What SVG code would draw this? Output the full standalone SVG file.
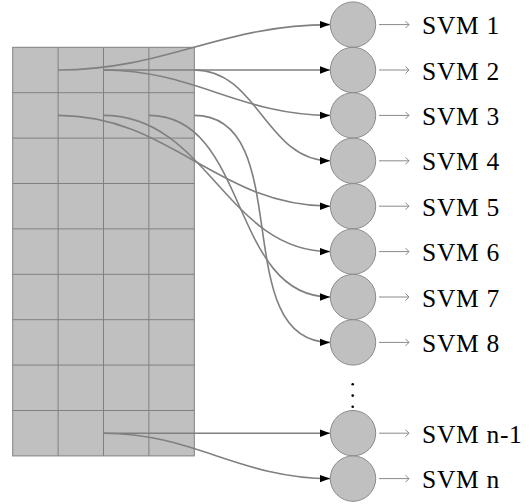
<svg xmlns="http://www.w3.org/2000/svg" width="530" height="504" viewBox="0 0 530 504">
<style>
.cell{fill:#c0c0c0;stroke:#808080;stroke-width:1}
.node circle{fill:#c0c0c0;stroke:#8a8a8a;stroke-width:1}
.out{fill:none;stroke:#8a8a8a;stroke-width:1}
.lbl{font-family:"Liberation Serif","Times New Roman",serif;font-size:25.5px;letter-spacing:0.7px;fill:#000}
.conn{fill:none;stroke:#808080;stroke-width:1.6;marker-end:url(#ah)}
</style>
<defs>
<marker id="ah" markerUnits="userSpaceOnUse" markerWidth="12" markerHeight="10" viewBox="0 0 12 10" refX="10" refY="5" orient="auto">
<path d="M0,1.3 L10,5 L0,8.7 Z" fill="#000"/>
</marker>
</defs>
<rect width="530" height="504" fill="#fff"/>
<g id="grid">
<rect class="cell" x="12.7" y="47.3" width="181.6" height="408.6"/>
<path d="M58.1,47.3V455.9M103.5,47.3V455.9M148.9,47.3V455.9M12.7,92.7H194.3M12.7,138.1H194.3M12.7,183.5H194.3M12.7,228.9H194.3M12.7,274.3H194.3M12.7,319.7H194.3M12.7,365.1H194.3M12.7,410.5H194.3" fill="none" stroke="#808080" stroke-width="1"/>
</g>
<g id="connectors">
<path class="conn" d="M58.1,70 C166,70 222.1,24.6 330,24.6"/>
<path class="conn" d="M103.5,70 L330,70"/>
<path class="conn" d="M103.5,70 C193.9,70 239.6,115.4 330,115.4"/>
<path class="conn" d="M194.3,70 C258.2,70 266.1,160.8 330,160.8"/>
<path class="conn" d="M58.1,115.4 C170.3,115.4 217.8,206.2 330,206.2"/>
<path class="conn" d="M103.5,115.4 C207,115.4 226.5,251.6 330,251.6"/>
<path class="conn" d="M148.9,115.4 C249.3,115.4 229.6,297 330,297"/>
<path class="conn" d="M194.3,115.4 C297.8,115.4 226.5,342.4 330,342.4"/>
<path class="conn" d="M103.5,433.2 L330,433.2"/>
<path class="conn" d="M103.5,433.2 C193.9,433.2 239.6,478.6 330,478.6"/>
</g>
<g id="svm1" class="node" transform="translate(353,24.6)"><circle r="22.7"/><path class="out" d="M26,0H56M52.5,-3.5L56,0L52.5,3.5"/><text class="lbl" x="69" y="9.6">SVM 1</text></g>
<g id="svm2" class="node" transform="translate(353,70)"><circle r="22.7"/><path class="out" d="M26,0H56M52.5,-3.5L56,0L52.5,3.5"/><text class="lbl" x="69" y="9.6">SVM 2</text></g>
<g id="svm3" class="node" transform="translate(353,115.4)"><circle r="22.7"/><path class="out" d="M26,0H56M52.5,-3.5L56,0L52.5,3.5"/><text class="lbl" x="69" y="9.6">SVM 3</text></g>
<g id="svm4" class="node" transform="translate(353,160.8)"><circle r="22.7"/><path class="out" d="M26,0H56M52.5,-3.5L56,0L52.5,3.5"/><text class="lbl" x="69" y="9.6">SVM 4</text></g>
<g id="svm5" class="node" transform="translate(353,206.2)"><circle r="22.7"/><path class="out" d="M26,0H56M52.5,-3.5L56,0L52.5,3.5"/><text class="lbl" x="69" y="9.6">SVM 5</text></g>
<g id="svm6" class="node" transform="translate(353,251.6)"><circle r="22.7"/><path class="out" d="M26,0H56M52.5,-3.5L56,0L52.5,3.5"/><text class="lbl" x="69" y="9.6">SVM 6</text></g>
<g id="svm7" class="node" transform="translate(353,297)"><circle r="22.7"/><path class="out" d="M26,0H56M52.5,-3.5L56,0L52.5,3.5"/><text class="lbl" x="69" y="9.6">SVM 7</text></g>
<g id="svm8" class="node" transform="translate(353,342.4)"><circle r="22.7"/><path class="out" d="M26,0H56M52.5,-3.5L56,0L52.5,3.5"/><text class="lbl" x="69" y="9.6">SVM 8</text></g>
<g id="dots" fill="#000"><circle cx="352.7" cy="384.3" r="1.3"/><circle cx="352.7" cy="395.6" r="1.3"/><circle cx="352.7" cy="406.8" r="1.3"/></g>
<g id="svmn1" class="node" transform="translate(353,433.2)"><circle r="22.7"/><path class="out" d="M26,0H56M52.5,-3.5L56,0L52.5,3.5"/><text class="lbl" x="69" y="9.6">SVM n-1</text></g>
<g id="svmn" class="node" transform="translate(353,478.6)"><circle r="22.7"/><path class="out" d="M26,0H56M52.5,-3.5L56,0L52.5,3.5"/><text class="lbl" x="69" y="9.6">SVM n</text></g>
</svg>
